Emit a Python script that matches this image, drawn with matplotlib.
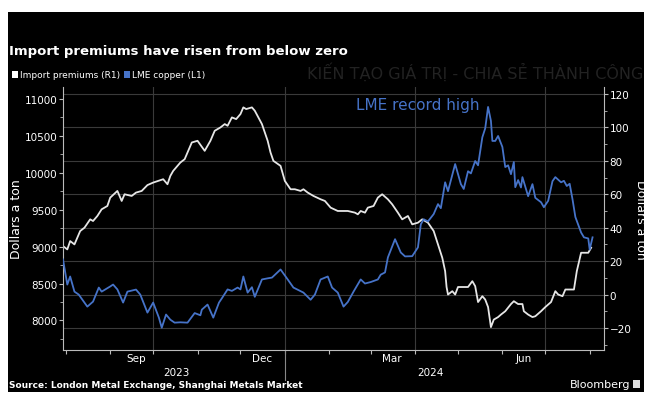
import matplotlib
matplotlib.use("Agg")
import matplotlib.pyplot as plt
import matplotlib.dates as mdates
import matplotlib.transforms as mtransforms
from matplotlib.patches import Rectangle
import pandas as pd
import numpy as np

# LME copper, $/t (left axis)
copper_dates = [
    "2023-07-30", "2023-08-02", "2023-08-04", "2023-08-07", "2023-08-10", "2023-08-16",
    "2023-08-20", "2023-08-24", "2023-08-26", "2023-09-01", "2023-09-03", "2023-09-06",
    "2023-09-10", "2023-09-13", "2023-09-19", "2023-09-22", "2023-09-27", "2023-10-01",
    "2023-10-05", "2023-10-07", "2023-10-10", "2023-10-13", "2023-10-16", "2023-10-20",
    "2023-10-25", "2023-10-30", "2023-11-03", "2023-11-04", "2023-11-08", "2023-11-12",
    "2023-11-16", "2023-11-18", "2023-11-22", "2023-11-25", "2023-11-29", "2023-12-01",
    "2023-12-03", "2023-12-06", "2023-12-09", "2023-12-11", "2023-12-16", "2023-12-20",
    "2023-12-23", "2023-12-29", "2024-01-03", "2024-01-07", "2024-01-14", "2024-01-19",
    "2024-01-22", "2024-01-26", "2024-01-31", "2024-02-03", "2024-02-07", "2024-02-11",
    "2024-02-14", "2024-02-18", "2024-02-23", "2024-02-26", "2024-03-01", "2024-03-06",
    "2024-03-08", "2024-03-11", "2024-03-13", "2024-03-18", "2024-03-22", "2024-03-25",
    "2024-03-30", "2024-04-03", "2024-04-05", "2024-04-07", "2024-04-10", "2024-04-14",
    "2024-04-17", "2024-04-19", "2024-04-22", "2024-04-24", "2024-04-29", "2024-05-03",
    "2024-05-05", "2024-05-08", "2024-05-10", "2024-05-13", "2024-05-15", "2024-05-18",
    "2024-05-20", "2024-05-22", "2024-05-24", "2024-05-25", "2024-05-27", "2024-05-29",
    "2024-06-01", "2024-06-03", "2024-06-05", "2024-06-07", "2024-06-09", "2024-06-10",
    "2024-06-12", "2024-06-14", "2024-06-15", "2024-06-19", "2024-06-22", "2024-06-24",
    "2024-06-28", "2024-06-30", "2024-07-03", "2024-07-06", "2024-07-08", "2024-07-12",
    "2024-07-14", "2024-07-16", "2024-07-18", "2024-07-20", "2024-07-22", "2024-07-26",
    "2024-07-28", "2024-07-31", "2024-08-01", "2024-08-03",
]
copper_usd = [
    8826, 8486, 8595, 8390, 8350, 8187,
    8255, 8445, 8390, 8460, 8486, 8420,
    8242, 8390, 8418, 8350, 8106, 8242,
    8038, 7902, 8080, 8010, 7970, 7975,
    7970, 8100, 8070, 8146, 8215, 8038,
    8242, 8300, 8420, 8400, 8445, 8420,
    8595, 8377, 8450, 8320, 8555, 8570,
    8580, 8690, 8555, 8445, 8377, 8280,
    8350, 8555, 8595, 8445, 8377, 8187,
    8250, 8390, 8555, 8500, 8520, 8555,
    8620, 8650, 8853, 9100, 8920, 8867,
    8870, 8989, 9300, 9370, 9340, 9440,
    9575, 9520, 9870, 9750, 10117, 9845,
    9780, 10020, 9990, 10158, 10100, 10480,
    10600, 10890, 10700, 10430, 10430, 10497,
    10348, 10076, 10100, 9980, 10144, 9804,
    9900, 9800, 9940, 9682, 9845, 9660,
    9600, 9533, 9620, 9885, 9940, 9870,
    9890, 9820, 9850, 9640, 9400, 9190,
    9125, 9110, 8960, 9125,
]

# Yangshan import premium, $/t (right axis)
premium_dates = [
    "2023-07-30", "2023-08-02", "2023-08-04", "2023-08-07", "2023-08-11", "2023-08-14",
    "2023-08-18", "2023-08-20", "2023-08-23", "2023-08-26", "2023-08-30", "2023-09-01",
    "2023-09-06", "2023-09-09", "2023-09-11", "2023-09-16", "2023-09-19", "2023-09-23",
    "2023-09-27", "2023-10-01", "2023-10-08", "2023-10-11", "2023-10-13", "2023-10-15",
    "2023-10-20", "2023-10-23", "2023-10-28", "2023-11-01", "2023-11-06", "2023-11-10",
    "2023-11-13", "2023-11-17", "2023-11-20", "2023-11-22", "2023-11-25", "2023-11-28",
    "2023-12-01", "2023-12-03", "2023-12-05", "2023-12-09", "2023-12-11", "2023-12-16",
    "2023-12-20", "2023-12-22", "2023-12-24", "2023-12-29", "2024-01-01", "2024-01-05",
    "2024-01-08", "2024-01-12", "2024-01-14", "2024-01-17", "2024-01-21", "2024-01-26",
    "2024-01-29", "2024-02-02", "2024-02-07", "2024-02-14", "2024-02-19", "2024-02-21",
    "2024-02-23", "2024-02-26", "2024-02-28", "2024-03-03", "2024-03-06", "2024-03-09",
    "2024-03-13", "2024-03-16", "2024-03-20", "2024-03-23", "2024-03-27", "2024-03-30",
    "2024-04-03", "2024-04-06", "2024-04-10", "2024-04-14", "2024-04-17", "2024-04-20",
    "2024-04-22", "2024-04-23", "2024-04-24", "2024-04-27", "2024-04-29", "2024-05-01",
    "2024-05-08", "2024-05-11", "2024-05-13", "2024-05-15", "2024-05-18", "2024-05-20",
    "2024-05-22", "2024-05-24", "2024-05-26", "2024-05-29", "2024-05-31", "2024-06-03",
    "2024-06-07", "2024-06-09", "2024-06-12", "2024-06-15", "2024-06-16", "2024-06-19",
    "2024-06-22", "2024-06-24", "2024-06-28", "2024-07-01", "2024-07-05", "2024-07-08",
    "2024-07-10", "2024-07-13", "2024-07-15", "2024-07-21", "2024-07-23", "2024-07-26",
    "2024-07-31", "2024-08-02",
]
premium_usd = [
    29, 27, 32, 30, 38, 40,
    45, 44, 47, 51, 53, 58,
    62, 56, 60, 59, 61, 62,
    65.5, 67, 69, 66, 71, 74,
    79, 81, 91, 92, 86, 92,
    98, 100, 102, 101, 106, 105,
    108, 112, 111, 112, 110, 102,
    92, 85, 80, 77, 68, 63,
    63, 62, 63, 61, 59, 57,
    56, 52, 50, 50, 49, 48,
    50, 49, 52, 53, 58, 60,
    57, 54, 49, 45, 47, 42,
    43, 45, 43, 38, 30, 22,
    14, 4.5, 0, 2, 0, 4.5,
    4.5, 8, 5, -4.5, -1, -3,
    -7.5, -19.5, -15, -13.5, -12, -10,
    -5.7, -4, -5.7, -5.7, -10, -12,
    -13.5, -13, -10, -7.5, -4.5, 2,
    0, -1, 3, 3, 14, 25,
    25, 28,
]

month_labels = ["Sep", "Dec", "Mar", "Jun"]
month_label_dates = ["2023-09-19", "2023-12-16", "2024-03-16", "2024-06-16"]
year_labels = ["2023", "2024"]
year_label_dates = ["2023-10-17", "2024-04-12"]

copper_x = pd.to_datetime(copper_dates)
premium_x = pd.to_datetime(premium_dates)

BG = "black"
FG = "white"
BLUE = "#4673c8"
GRID = "#3a3a3a"

plt.rcParams['font.family'] = ['DejaVu Sans']

fig = plt.figure(figsize=(6.5, 4.02), dpi=100)
fig.patch.set_facecolor("white")
fig.patches.append(Rectangle((8/650, 9/402), 636/650, 380/402, transform=fig.transFigure,
                             facecolor=BG, edgecolor="none", zorder=-10))

# premium axes underneath (ticks right), copper on top (ticks left)
ax = fig.add_axes([63/650, 51/402, 541/650, 263/402])
ax.set_facecolor("none")
ax2 = ax.twinx()
ax2.set_facecolor("none")

ax.plot(premium_x, premium_usd, color="#e6e6e6", lw=1.3, zorder=3)
ax2.plot(copper_x, copper_usd, color=BLUE, lw=1.3, zorder=3)

ax.set_ylim(-33.2, 124.2)
ax2.set_ylim(7600, 11160)
ax.set_xlim(pd.Timestamp("2023-07-30"), pd.Timestamp("2024-08-11"))

ax.yaxis.tick_right()
ax.yaxis.set_label_position("right")
ax2.yaxis.tick_left()
ax2.yaxis.set_label_position("left")

ax.set_yticks(np.arange(-20, 121, 20))
ax.set_yticks(np.arange(-30, 121, 10), minor=True)
ax2.set_yticks(np.arange(8000, 11001, 500))
ax2.set_yticks(np.arange(7750, 11001, 250), minor=True)

ax.grid(axis="y", which="major", color=GRID, lw=0.8)
for d in ["2023-10-01", "2024-01-01", "2024-04-01", "2024-07-01"]:
    ax.axvline(pd.Timestamp(d), color=GRID, lw=0.8, zorder=1)

ax.xaxis.set_major_locator(mdates.MonthLocator())
ax.xaxis.set_major_formatter(plt.NullFormatter())
ax.xaxis.set_minor_locator(mdates.MonthLocator())
ax.tick_params(axis="x", which="major", colors="#bbbbbb", length=3, width=0.8)

for a in (ax, ax2):
    for s in a.spines.values():
        s.set_visible(False)
for side in ("left", "right", "bottom"):
    ax2.spines[side].set_visible(True)
    ax2.spines[side].set_color("#bbbbbb")
    ax2.spines[side].set_linewidth(0.8)

ax.tick_params(axis="y", which="major", colors="#bbbbbb", labelcolor=FG, labelsize=7.5,
               length=3, width=0.8, pad=1)
ax.tick_params(axis="y", which="minor", colors="#bbbbbb", length=2, width=0.6)
ax2.tick_params(axis="y", which="major", colors="#bbbbbb", labelcolor=FG, labelsize=7.5,
                length=3, width=0.8, pad=1)
ax2.tick_params(axis="y", which="minor", colors="#bbbbbb", length=2, width=0.6)
ax2.tick_params(axis="x", which="both", length=0, labelbottom=False)

ax.set_ylabel("Dollars a ton", color=FG, fontsize=9, rotation=270, labelpad=11)
ax2.set_ylabel("Dollars a ton", color=FG, fontsize=9, labelpad=1)

trans = mtransforms.blended_transform_factory(ax.transData, ax.transAxes)
for lab, d in zip(month_labels, month_label_dates):
    ax.text(pd.Timestamp(d), -0.03, lab, transform=trans, color=FG, fontsize=7.5,
            ha="center", va="center")
for lab, d in zip(year_labels, year_label_dates):
    ax.text(pd.Timestamp(d), -0.085, lab, transform=trans, color=FG, fontsize=7.5,
            ha="center", va="center")
ax.plot([pd.Timestamp("2024-01-01")] * 2, [0, -0.115], transform=trans, color="#888888",
        lw=0.8, clip_on=False)

ax2.text(0.655, 0.935, "LME record high", transform=ax2.transAxes, color=BLUE,
         fontsize=11, ha="center", va="center")

fig.text(9/650, 1 - 52/402, "Import premiums have risen from below zero", color=FG,
         fontsize=9.5, fontweight="bold", va="center", ha="left")
fig.text(20/650, 1 - 75/402, "Import premiums (R1)", color=FG, fontsize=6.5, va="center")
fig.text(132/650, 1 - 75/402, "LME copper (L1)", color=FG, fontsize=6.5, va="center")
fig.patches.append(Rectangle((12/650, 1 - 79/402), 6/650, 7/402, transform=fig.transFigure,
                             facecolor="white", edgecolor="none"))
fig.patches.append(Rectangle((124/650, 1 - 79/402), 6/650, 7/402, transform=fig.transFigure,
                             facecolor=BLUE, edgecolor="none"))
fig.text(0.99, 1 - 72/402, "KIẾN TẠO GIÁ TRỊ - CHIA SẺ THÀNH CÔNG", color="#222222",
         fontsize=11.5, va="center", ha="right")

fig.text(9/650, 1 - 386/402, "Source: London Metal Exchange, Shanghai Metals Market",
         color=FG, fontsize=6.5, fontweight="bold", va="center")
fig.text(630/650, 1 - 385/402, "Bloomberg", color=FG, fontsize=8, va="center", ha="right")
fig.patches.append(Rectangle((633/650, 1 - 389/402), 7/650, 8/402, transform=fig.transFigure,
                             facecolor="#dddddd", edgecolor="none"))

fig.savefig("out.png", dpi=100, facecolor=fig.get_facecolor())
